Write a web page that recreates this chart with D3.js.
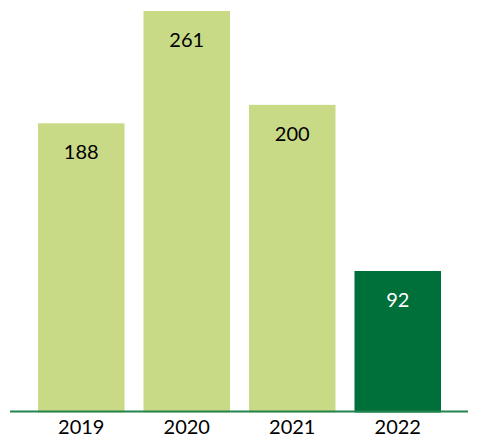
<!DOCTYPE html>
<html><head><meta charset="utf-8">
<script src="https://cdn.jsdelivr.net/npm/d3@7"></script>
<style>body{margin:0;background:#fff}svg{display:block}</style>
</head><body>
<script>
const categories = ["2019", "2020", "2021", "2022"];
const values = [188, 261, 200, 92];
const highlight = [false, false, false, true];

const W = 477, H = 443;
const svg = d3.select("body").append("svg").attr("width", W).attr("height", H);
const baseY = 412.5;
const x = d3.scaleBand().domain(categories).range([28.5, 450.5]).paddingInner(0.18).paddingOuter(0.09);
const y = d3.scaleLinear().domain([0, 261]).range([baseY, 11]);
const font = "Lato, Calibri, 'Open Sans', sans-serif";

svg.selectAll("rect.bar").data(categories).join("rect")
  .attr("class", "bar")
  .attr("x", d => x(d)).attr("width", x.bandwidth())
  .attr("y", (d, i) => y(values[i])).attr("height", (d, i) => baseY - y(values[i]))
  .attr("fill", (d, i) => highlight[i] ? "#00703a" : "#c9da87");

svg.selectAll("text.val").data(categories).join("text")
  .attr("class", "val")
  .attr("x", d => x(d) + x.bandwidth() / 2)
  .attr("y", (d, i) => y(values[i]) + 36)
  .attr("text-anchor", "middle")
  .attr("font-family", font).attr("font-size", 20)
  .attr("fill", (d, i) => highlight[i] ? "#ffffff" : "#000000")
  .text((d, i) => values[i]);

const axis = d3.axisBottom(x).tickSize(0).tickPadding(6);
const g = svg.append("g").attr("transform", `translate(0,${baseY - 1})`).call(axis);
g.select(".domain").attr("stroke", "#23844e").attr("stroke-width", 2).attr("d", "M10,0H468");
g.selectAll("text").attr("font-family", font).attr("font-size", 20).attr("fill", "#000").attr("dy", "0.8em");
</script>
</body></html>
